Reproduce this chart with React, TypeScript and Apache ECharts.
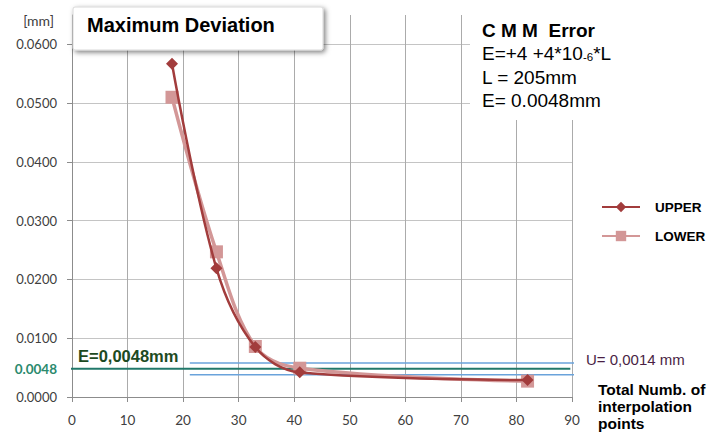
import React, { useEffect, useRef } from "react";
import * as echarts from "echarts";

const upperPoints: [number, number][] = [
  [18, 0.0567],
  [26, 0.0219],
  [33, 0.0085],
  [41, 0.0042],
  [82, 0.0029],
];
const lowerPoints: [number, number][] = [
  [18, 0.051],
  [26, 0.0247],
  [33, 0.0086],
  [41, 0.0049],
  [82, 0.0027],
];
const seriesNames = ["UPPER", "LOWER"];
const yLabelValues = [0, 0.01, 0.02, 0.03, 0.04, 0.05, 0.06, 0.065, 0.0048];
const yTickValues = [0, 0.01, 0.02, 0.03, 0.04, 0.05, 0.06];
const errorE = 0.0048;
const eLine: [number, number][] = [
  [-1.3, 0.0048],
  [89.7, 0.0048],
];
const bandHighLine: [number, number][] = [
  [21.2, 0.0058],
  [91, 0.0058],
];
const bandLowLine: [number, number][] = [
  [21.2, 0.0038],
  [91, 0.0038],
];

const FONT = "Liberation Sans, Arial, sans-serif";

export default function App() {
  const ref = useRef<HTMLDivElement>(null);
  useEffect(() => {
    if (!ref.current) return;
    const chart = echarts.init(ref.current, undefined, { renderer: "svg" });
    const refLine = (name: string, data: [number, number][], color: string, width: number) => ({
      name,
      type: "line",
      data,
      symbol: "none",
      clip: false,
      silent: true,
      lineStyle: { color, width },
      z: 2,
    });
    chart.setOption({
      animation: false,
      backgroundColor: "#ffffff",
      grid: { left: 72, right: 138, top: 15, bottom: 35, containLabel: false },
      legend: {
        data: seriesNames,
        orient: "vertical",
        left: 601,
        top: 200,
        padding: 0,
        itemWidth: 38,
        itemHeight: 13,
        itemGap: 15,
        textStyle: {
          fontFamily: FONT,
          fontWeight: "bold",
          fontSize: 13.5,
          color: "#000",
          padding: [0, 0, 0, 10],
          width: 60,
          overflow: "none",
        },
      },
      xAxis: {
        type: "value",
        min: 0,
        max: 90,
        interval: 10,
        axisLine: { show: true, lineStyle: { color: "#8c8c8c" } },
        axisTick: { show: true, length: 5, lineStyle: { color: "#8c8c8c" } },
        axisLabel: { fontFamily: "Lato", fontSize: 13.5, color: "#404040", margin: 16 },
        splitLine: { show: true, lineStyle: { color: "#ababab", width: 1 } },
      },
      yAxis: {
        type: "value",
        min: 0,
        max: 0.065,
        interval: 0.005,
        axisLine: { show: true, lineStyle: { color: "#8c8c8c" } },
        axisTick: {
          show: true,
          length: 5,
          customValues: yTickValues,
          lineStyle: { color: "#8c8c8c" },
        },
        axisLabel: {
          customValues: yLabelValues,
          fontFamily: "Lato",
          fontSize: 13,
          color: "#404040",
          margin: 15,
          formatter: (v: number) => {
            if (Math.abs(v - 0.065) < 1e-9) return "{u|[mm]}";
            if (Math.abs(v - errorE) < 1e-9) return "{g|" + v.toFixed(4) + "}";
            return v.toFixed(4);
          },
          rich: {
            u: { fontFamily: "Lato", fontSize: 14, color: "#404040", padding: [10, 3, 0, 0] },
            g: { fontFamily: "Lato", fontSize: 13.5, fontWeight: "bold", color: "#2b8a6e" },
          },
        },
        splitLine: { show: true, lineStyle: { color: "#c4c4c4", width: 1 } },
      },
      series: [
        refLine("bandHigh", bandHighLine, "#6aa3db", 1.5),
        refLine("bandLow", bandLowLine, "#6aa3db", 1.5),
        refLine("E", eLine, "#21786a", 2),
        {
          name: "LOWER",
          type: "line",
          data: lowerPoints,
          smooth: 0.35,
          symbol: "rect",
          symbolSize: 13,
          itemStyle: { color: "#d39797" },
          lineStyle: { color: "#d39797", width: 3.5 },
          z: 3,
        },
        {
          name: "UPPER",
          type: "line",
          data: upperPoints,
          smooth: 0.35,
          symbol: "diamond",
          symbolSize: 12,
          itemStyle: { color: "#a23c3c" },
          lineStyle: { color: "#a23c3c", width: 2.5 },
          z: 4,
        },
      ],
      graphic: [
        {
          type: "rect",
          z: 20,
          shape: { x: 73, y: 7, width: 250, height: 43, r: 2 },
          style: {
            fill: "#ffffff",
            stroke: "#d8d8d8",
            lineWidth: 1,
            shadowBlur: 5,
            shadowOffsetX: 2,
            shadowOffsetY: 2,
            shadowColor: "rgba(0,0,0,0.5)",
          },
        },
        {
          type: "text",
          z: 21,
          x: 87,
          y: 25,
          style: {
            text: "Maximum Deviation",
            fontFamily: FONT,
            fontWeight: "bold",
            fontSize: 20,
            fill: "#000",
            verticalAlign: "middle",
          },
        },
        {
          type: "rect",
          z: 20,
          shape: { x: 470, y: 5, width: 240, height: 115 },
          style: { fill: "#ffffff", stroke: "none" },
        },
        {
          type: "text",
          z: 21,
          x: 482,
          y: 30,
          style: {
            text: "C M M  Error",
            fontFamily: FONT,
            fontWeight: "bold",
            fontSize: 19,
            fill: "#000",
            verticalAlign: "middle",
          },
        },
        {
          type: "text",
          z: 21,
          x: 482,
          y: 53,
          style: {
            text: "{n|E=+4 +4*10}{s|-6}{n|*L}",
            verticalAlign: "middle",
            rich: {
              n: { fontFamily: FONT, fontSize: 19, color: "#000" },
              s: { fontFamily: FONT, fontSize: 11.5, color: "#000", padding: [7, 0, 0, 0] },
            },
          },
        },
        {
          type: "text",
          z: 21,
          x: 482,
          y: 77,
          style: { text: "L = 205mm", fontFamily: FONT, fontSize: 19, fill: "#000", verticalAlign: "middle" },
        },
        {
          type: "text",
          z: 21,
          x: 482,
          y: 100,
          style: { text: "E= 0.0048mm", fontFamily: FONT, fontSize: 19, fill: "#000", verticalAlign: "middle" },
        },
        {
          type: "text",
          z: 21,
          x: 78,
          y: 356,
          style: {
            text: "E=0,0048mm",
            fontFamily: FONT,
            fontWeight: "bold",
            fontSize: 16.5,
            fill: "#1d4a22",
            verticalAlign: "middle",
          },
        },
        {
          type: "text",
          z: 21,
          x: 586,
          y: 359,
          style: { text: "U= 0,0014 mm", fontFamily: FONT, fontSize: 15, fill: "#4a1f45", verticalAlign: "middle" },
        },
        {
          type: "text",
          z: 21,
          x: 598,
          y: 381,
          style: {
            text: "Total Numb. of\ninterpolation\npoints",
            fontFamily: FONT,
            fontWeight: "bold",
            fontSize: 15.5,
            lineHeight: 17,
            fill: "#000",
            verticalAlign: "top",
          },
        },
      ],
    });
    return () => chart.dispose();
  }, []);
  return (
    <div
      ref={ref}
      style={{ position: "fixed", left: 0, top: 0, width: 710, height: 432 }}
    />
  );
}
